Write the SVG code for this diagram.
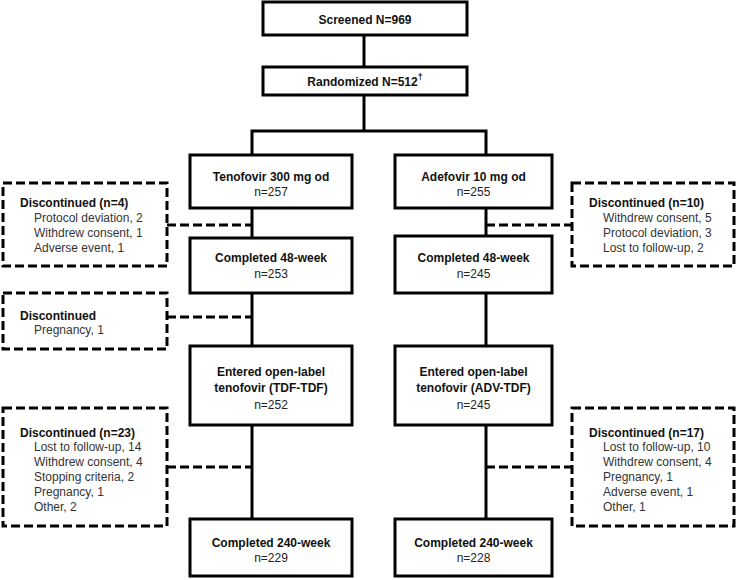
<svg xmlns="http://www.w3.org/2000/svg" width="738" height="580" viewBox="0 0 738 580">
<style>
.box{fill:#fff;stroke:#000;stroke-width:3}
.dbox{fill:#fff;stroke:#000;stroke-width:3;stroke-dasharray:9 4}
.ln{stroke:#000;stroke-width:3;fill:none}
.dln{stroke:#000;stroke-width:3;fill:none;stroke-dasharray:9 4}
text{font-family:"Liberation Sans",Arial,sans-serif;font-size:12px}
.b{font-weight:bold;fill:#111;text-anchor:middle}
.bl{font-weight:bold;fill:#111}
.r{fill:#222;text-anchor:middle}
.it{fill:#333}
</style>
<rect width="738" height="580" fill="#fff"/>
<g id="connectors">
<line class="ln" x1="364" y1="35" x2="364" y2="67"/>
<line class="ln" x1="364" y1="95" x2="364" y2="131"/>
<polyline class="ln" points="252,155 252,131 486,131 486,155"/>
<line class="ln" x1="252" y1="208" x2="252" y2="238"/>
<line class="ln" x1="252" y1="293" x2="252" y2="346"/>
<line class="ln" x1="252" y1="425" x2="252" y2="519"/>
<line class="ln" x1="486" y1="208" x2="486" y2="236"/>
<line class="ln" x1="486" y1="293" x2="486" y2="346"/>
<line class="ln" x1="486" y1="425" x2="486" y2="519"/>
<line class="dln" x1="167" y1="225" x2="252" y2="225"/>
<line class="dln" x1="167" y1="317" x2="252" y2="317"/>
<line class="dln" x1="167" y1="467" x2="252" y2="467"/>
<line class="dln" x1="486" y1="225" x2="572" y2="225"/>
<line class="dln" x1="486" y1="467" x2="572" y2="467"/>
</g>
<g id="screened">
<rect class="box" x="263" y="2" width="204" height="33"/>
<text class="b" x="365" y="24">Screened N=969</text>
</g>
<g id="randomized">
<rect class="box" x="263" y="67" width="204" height="28"/>
<text class="b" x="365" y="86">Randomized N=512<tspan dy="-6" font-size="9">†</tspan></text>
</g>
<g id="tdf">
<rect class="box" x="190" y="155" width="162" height="53"/>
<text class="b" x="271" y="181">Tenofovir 300 mg od</text>
<text class="r" x="271" y="196">n=257</text>
</g>
<g id="adv">
<rect class="box" x="395" y="155" width="157" height="53"/>
<text class="b" x="473.5" y="181">Adefovir 10 mg od</text>
<text class="r" x="473.5" y="196">n=255</text>
</g>
<g id="tdf48">
<rect class="box" x="190" y="238" width="162" height="55"/>
<text class="b" x="271" y="262">Completed 48-week</text>
<text class="r" x="271" y="278">n=253</text>
</g>
<g id="adv48">
<rect class="box" x="395" y="236" width="157" height="57"/>
<text class="b" x="473.5" y="262">Completed 48-week</text>
<text class="r" x="473.5" y="278">n=245</text>
</g>
<g id="tdfopen">
<rect class="box" x="190" y="346" width="162" height="79"/>
<text class="b" x="271" y="376">Entered open-label</text>
<text class="b" x="271" y="392">tenofovir (TDF-TDF)</text>
<text class="r" x="271" y="409">n=252</text>
</g>
<g id="advopen">
<rect class="box" x="395" y="346" width="157" height="79"/>
<text class="b" x="473.5" y="376">Entered open-label</text>
<text class="b" x="473.5" y="392">tenofovir (ADV-TDF)</text>
<text class="r" x="473.5" y="409">n=245</text>
</g>
<g id="tdf240">
<rect class="box" x="190" y="519" width="162" height="57"/>
<text class="b" x="271" y="547">Completed 240-week</text>
<text class="r" x="271" y="562">n=229</text>
</g>
<g id="adv240">
<rect class="box" x="395" y="519" width="157" height="57"/>
<text class="b" x="473.5" y="547">Completed 240-week</text>
<text class="r" x="473.5" y="562">n=228</text>
</g>
<g id="disc-l1">
<rect class="dbox" x="3" y="183" width="164" height="83"/>
<text class="bl" x="20" y="207">Discontinued (n=4)</text>
<text class="it" x="34" y="222">Protocol deviation, 2</text>
<text class="it" x="34" y="237">Withdrew consent, 1</text>
<text class="it" x="34" y="252">Adverse event, 1</text>
</g>
<g id="disc-l2">
<rect class="dbox" x="3" y="293" width="164" height="56"/>
<text class="bl" x="20" y="320">Discontinued</text>
<text class="it" x="34" y="334">Pregnancy, 1</text>
</g>
<g id="disc-l3">
<rect class="dbox" x="3" y="408" width="164" height="118"/>
<text class="bl" x="20" y="437">Discontinued (n=23)</text>
<text class="it" x="34" y="451">Lost to follow-up, 14</text>
<text class="it" x="34" y="466">Withdrew consent, 4</text>
<text class="it" x="34" y="481">Stopping criteria, 2</text>
<text class="it" x="34" y="496">Pregnancy, 1</text>
<text class="it" x="34" y="511">Other, 2</text>
</g>
<g id="disc-r1">
<rect class="dbox" x="572" y="183" width="162" height="83"/>
<text class="bl" x="589" y="207">Discontinued (n=10)</text>
<text class="it" x="603" y="222">Withdrew consent, 5</text>
<text class="it" x="603" y="237">Protocol deviation, 3</text>
<text class="it" x="603" y="252">Lost to follow-up, 2</text>
</g>
<g id="disc-r3">
<rect class="dbox" x="572" y="408" width="162" height="118"/>
<text class="bl" x="589" y="437">Discontinued (n=17)</text>
<text class="it" x="603" y="451">Lost to follow-up, 10</text>
<text class="it" x="603" y="466">Withdrew consent, 4</text>
<text class="it" x="603" y="481">Pregnancy, 1</text>
<text class="it" x="603" y="496">Adverse event, 1</text>
<text class="it" x="603" y="511">Other, 1</text>
</g>
</svg>
